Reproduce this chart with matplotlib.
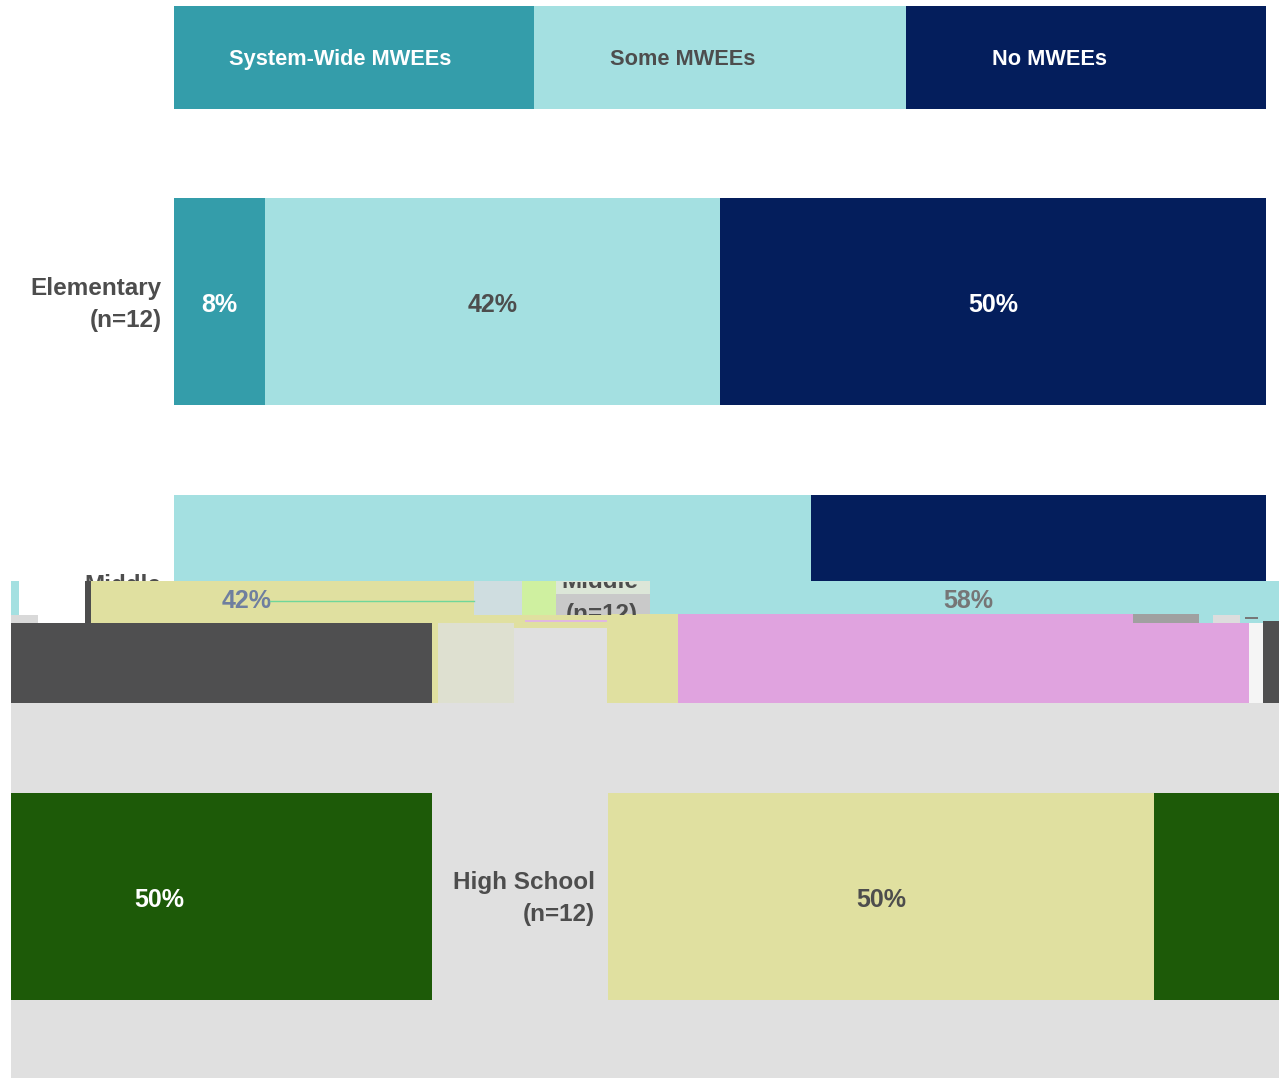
import matplotlib
matplotlib.use("Agg")
import matplotlib.pyplot as plt
from matplotlib.patches import Rectangle

W, H = 1283, 1078
plt.rcParams['font.family'] = ['Liberation Sans', 'DejaVu Sans']

# ---- data ----
legend_names = ["System-Wide MWEEs", "Some MWEEs", "No MWEEs"]
legend_widths = [33, 34, 33]
groups = ["Elementary\n(n=12)", "Middle\n(n=12)", "High School\n(n=12)"]
n_schools = 12
system_wide = [1, 0, 0]
some = [5, 7, 6]
none_ = [6, 5, 6]

TEAL, LIGHT, NAVY = "#349DAA", "#A4E0E1", "#041E5C"
DARK = "#4D4D4D"
YELLOW, GREEN, PINK, SLATE, GREY = "#E0E0A0", "#1D5A08", "#E0A3DF", "#4F4F50", "#E0E0E0"
LABEL_SIZE = 18
NAME_SIZE = 17.5

fig = plt.figure(figsize=(W / 100, H / 100), dpi=100, facecolor="white")


def pct(v):
    return v / n_schools * 100


def label(v):
    return f"{round(pct(v))}%"


def px_axes(x0, y0, x1, y1, z):
    a = fig.add_axes([x0 / W, 1 - y1 / H, (x1 - x0) / W, (y1 - y0) / H], zorder=z)
    a.axis("off")
    return a


BAR_L, BAR_R = 174, 1266
PERIOD = 1268


def band(values, colors, shift, y0, y1, z, labels=None, label_colors=None, label_y=None):
    """One stacked row, placed shift pixels along and clipped to the band y0..y1."""
    a = px_axes(BAR_L + shift, y0, BAR_R + shift, y1, z)
    a.set_xlim(0, 100)
    a.set_ylim(y1, y0)
    left = 0
    for i, (v, c) in enumerate(zip(values, colors)):
        p = pct(v)
        if p and c:
            a.barh((y0 + y1) / 2, p, left=left, height=y1 - y0, color=c, linewidth=0)
            if labels and labels[i]:
                a.text(left + p / 2, label_y, label(v), ha="center", va="center",
                       color=label_colors[i], fontsize=LABEL_SIZE, fontweight="bold", clip_on=False)
        left += p
    return a


# ---- header row ----
hdr = px_axes(BAR_L, 6, BAR_R, 109, 1)
hdr.set_xlim(0, 100)
hdr.set_ylim(0, 1)
left = 0
for w, c in zip(legend_widths, [TEAL, LIGHT, NAVY]):
    hdr.barh(0.5, w, left=left, height=1, color=c, linewidth=0)
    left += w
for name, xp, tc in zip(legend_names, [340, 683, 1050], ["white", DARK, "white"]):
    hdr.text((xp - BAR_L) / (BAR_R - BAR_L) * 100, 0.485, name, ha="center", va="center",
             color=tc, fontsize=15.7, fontweight="bold")

# ---- main rows (upper part of the picture) ----
ax = px_axes(BAR_L, 0, BAR_R, H, 1)
ax.set_xlim(0, 100)
ax.set_ylim((H - 301.5) / 297, (0 - 301.5) / 297)
ypos = range(len(groups))
sw_p = [pct(v) for v in system_wide]
so_p = [pct(v) for v in some]
no_p = [pct(v) for v in none_]
ax.barh(ypos, sw_p, height=207 / 297, color=TEAL, linewidth=0)
ax.barh(ypos, so_p, left=sw_p, height=207 / 297, color=LIGHT, linewidth=0)
ax.barh(ypos, no_p, left=[a + b for a, b in zip(sw_p, so_p)], height=207 / 297, color=NAVY, linewidth=0)
for i in (0, 1):
    ax.text(-1.15, i + 0.01, groups[i], ha="right", va="center", color=DARK, fontsize=NAME_SIZE,
            fontweight="bold", clip_on=False, linespacing=1.5)
left = 0
for v, c in zip([system_wide[0], some[0], none_[0]], ["white", DARK, "white"]):
    ax.text(left + pct(v) / 2, 0.012, label(v), ha="center", va="center", color=c,
            fontsize=LABEL_SIZE, fontweight="bold")
    left += pct(v)

# ---- damaged lower part: plain grounds ----
ground = px_axes(0, 0, W, H, 2)
ground.set_xlim(0, W)
ground.set_ylim(H, 0)
ground.add_patch(Rectangle((0, 581), W, H - 581, color="white", lw=0))
ground.add_patch(Rectangle((11, 703), 1268, H - 703, color=GREY, lw=0))

# Middle row, displaced sections
mid = [system_wide[1], some[1], none_[1]]
band(mid, [None, LIGHT, YELLOW], 476, 581, 614, 3, [None, "58%", None], [None, "#767676", None], 601)
band(mid, [None, LIGHT, YELLOW], 476 - PERIOD, 581, 614, 3, [None, None, "42%"], [None, None, "#6F7F9F"], 601)
band(mid, [None, PINK, SLATE], 438, 614, 703, 3)
band(mid, [None, PINK, SLATE], 438 - PERIOD, 623, 703, 3)

# High School row, displaced and wrapped
hs = [system_wide[2], some[2], none_[2]]
band(hs, [None, YELLOW, GREEN], 434, 793, 1000, 3, [None, "50%", None], [None, DARK, None], 900)
band(hs, [None, None, GREEN], 434 - PERIOD, 793, 1000, 3, [None, None, "50%"], [None, None, "white"], 900)

# ---- damaged lower part: stray fragments over the rows ----
fg = px_axes(0, 0, W, H, 4)
fg.set_xlim(0, W)
fg.set_ylim(H, 0)
fragments = [
    (11, 581, 8, 34, LIGHT), (19, 581, 66, 42, "white"), (85, 581, 6, 42, DARK), (11, 615, 27, 8, "#D9D9D9"),
    (91, 614, 383, 9, YELLOW),
    (474, 581, 48, 34, "#CFDDE0"), (522, 581, 34, 34, "#CFF0A0"), (556, 581, 94, 34, "#C9C9C9"),
    (556, 581, 94, 13, "#DCE6D8"),
    (474, 615, 204, 8, YELLOW), (432, 623, 175, 80, GREY), (432, 623, 6, 80, YELLOW),
    (438, 623, 76, 80, "#DEE0D0"), (514, 623, 93, 5, YELLOW), (607, 614, 71, 89, YELLOW),
    (525, 620, 82, 1.5, "#E0B8E0"),
    (1133, 614, 66, 9, "#A0A0A0"), (1199, 614, 80, 9, LIGHT),
    (1213, 615, 27, 8, "#DDDDDD"), (1245, 617, 13, 2, "#777777"),
    (1249, 623, 14, 80, "#F5F5F5"), (1263, 621, 16, 82, SLATE),
    (0, 581, 11, H - 581, "white"), (1279, 581, 4, H - 581, "white"),
]
for x, y, w, h, c in fragments:
    fg.add_patch(Rectangle((x, y), w, h, color=c, lw=0))
fg.plot([270, 474], [601, 601], color="#6FD69A", lw=1)

# remains of the Middle label inside the grey block
for txt, yc, clip_y, clip_h in [("Middle", 581, 582, 11), ("(n=12)", 614, 600, 15)]:
    t = fg.text(638, yc, txt, ha="right", va="center", color=DARK, fontsize=NAME_SIZE, fontweight="bold")
    t.set_clip_on(True)
    t.set_clip_path(Rectangle((556, clip_y), 94, clip_h, transform=fg.transData))

fg.text(595, 883, groups[2].split("\n")[0], ha="right", va="center", color=DARK, fontsize=NAME_SIZE, fontweight="bold")
fg.text(595, 915, groups[2].split("\n")[1], ha="right", va="center", color=DARK, fontsize=NAME_SIZE, fontweight="bold")

fig.savefig("out.png", dpi=100)
